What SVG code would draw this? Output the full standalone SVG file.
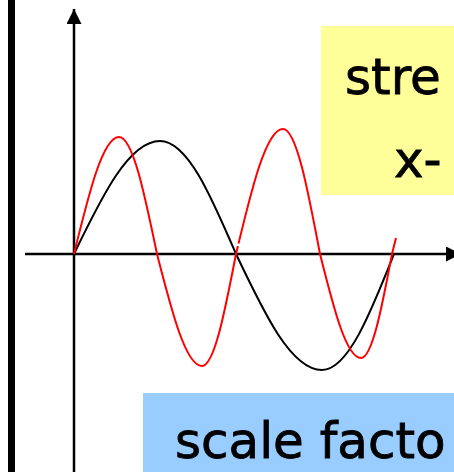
<svg xmlns="http://www.w3.org/2000/svg" width="454" height="472" viewBox="0 0 454 472">
<defs>
<style>
.axis{stroke:#000;stroke-width:2.5;fill:none}
.black{stroke:#000;stroke-width:2;fill:none}
.red{stroke:#ff0000;stroke-width:2;fill:none}
.lbl{font-family:"Comic Sans MS","DejaVu Sans",sans-serif;font-size:50px;fill:#000;stroke:#000;stroke-width:0.8}
</style>
<marker id="arr" viewBox="0 0 10 10" refX="10" refY="5" markerWidth="6" markerHeight="6" markerUnits="strokeWidth" orient="auto">
<path d="M0,0 L10,5 L0,10 z" fill="#000"/>
</marker>
</defs>
<rect x="0" y="0" width="454" height="472" fill="#fff"/>
<rect x="8" y="0" width="7" height="472" fill="#000"/>
<g id="connectors">
<line class="axis" x1="74" y1="472" x2="74" y2="9" marker-end="url(#arr)"/>
<line class="axis" x1="25" y1="254" x2="461" y2="254" marker-end="url(#arr)"/>
</g>
<g id="black-curve">
<path class="black" d="M74,254 C102,196 129,141 160,141 C187.5,141 211,196 236,254 C264,313 291,370 322,370 C348,370 370.5,313 394,254"/>
</g>
<g id="red-curve">
<path class="red" d="M74,254 C88.7,194 102.7,137 119,137 C132.8,137 144.6,194 157,254 C171.7,311.4 185.7,366 202,366 C214.3,366 224.9,311.4 236,254 C251.3,190 266,129 283,129 C296.4,129 307.9,190 320,254 C333.4,307.3 346.2,358 361,358 C372.2,358 381.9,307.3 392,254 L396,238"/>
<line x1="236" y1="244.5" x2="243" y2="245.5" stroke="#fff" stroke-width="2.5"/>
</g>
<g id="stretch-box">
<rect x="321" y="26" width="140" height="169" fill="#ffff99"/>
<text class="lbl" x="345" y="94">stre</text>
<text class="lbl" x="394" y="177">x-</text>
</g>
<g id="scale-box">
<rect x="143" y="393" width="320" height="90" fill="#99ccff"/>
<text class="lbl" x="175" y="458">scale facto</text>
</g>
</svg>
